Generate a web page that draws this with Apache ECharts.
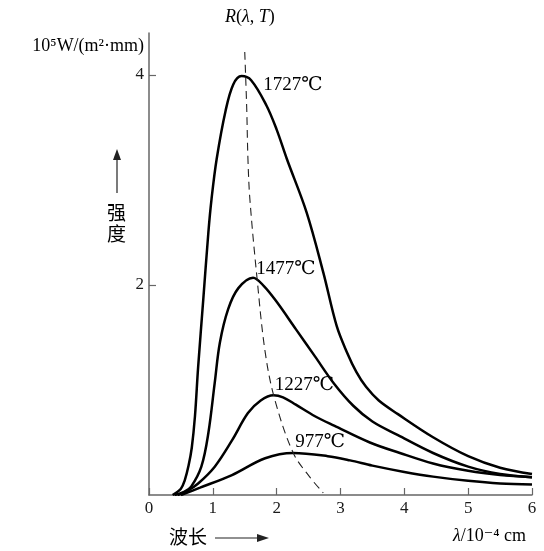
<!DOCTYPE html>
<html>
<head>
<meta charset="utf-8">
<script src="https://cdn.jsdelivr.net/npm/echarts@6/dist/echarts.min.js"></script>
<style>
  html, body { margin: 0; padding: 0; background: #fff; }
  #chart { width: 544px; height: 551px; }
</style>
</head>
<body>
<div id="chart"></div>
<script>
// wavelength (10^-4 cm) vs intensity R (10^5 W/(m^2·mm))
const xTicks = [0, 1, 2, 3, 4, 5, 6]
const yTicks = [2, 4]

const curve1727 = [
    [0.37, 0], [0.5, 0.06], [0.56, 0.14], [0.62, 0.28], [0.67, 0.45], [0.72, 0.75],
    [0.77, 1.22], [0.85, 1.86], [0.93, 2.5], [0.98, 2.82], [1.06, 3.2], [1.2, 3.66],
    [1.32, 3.91], [1.45, 3.99], [1.6, 3.95], [1.84, 3.71], [2.0, 3.48], [2.16, 3.2],
    [2.47, 2.69], [2.73, 2.12], [2.94, 1.61], [3.1, 1.36], [3.25, 1.17], [3.4, 1.03],
    [3.6, 0.9], [3.9, 0.77], [4.45, 0.55], [5.0, 0.37], [5.5, 0.26], [6, 0.2],
]
const curve1477 = [
    [0.4, 0], [0.55, 0.03], [0.66, 0.08], [0.82, 0.27], [0.93, 0.59], [1.03, 1.07],
    [1.11, 1.45], [1.24, 1.77], [1.4, 1.97], [1.63, 2.07], [1.8, 1.99], [2.0, 1.84],
    [2.3, 1.58], [2.6, 1.32], [2.9, 1.06], [3.2, 0.85], [3.5, 0.7], [3.9, 0.57],
    [4.45, 0.4], [5.0, 0.27], [5.5, 0.2], [6, 0.17],
]
const curve1227 = [
    [0.45, 0], [0.6, 0.04], [0.77, 0.11], [1.03, 0.27], [1.3, 0.52], [1.55, 0.78],
    [1.75, 0.9], [1.95, 0.95], [2.1, 0.93], [2.3, 0.86], [2.6, 0.75], [2.9, 0.66],
    [3.46, 0.5], [3.93, 0.4], [4.45, 0.3], [5.0, 0.23], [5.5, 0.19], [6, 0.17],
]
const curve977 = [
    [0.5, 0], [0.8, 0.07], [1.3, 0.19], [1.82, 0.35], [2.26, 0.4], [2.8, 0.37],
    [3.15, 0.33], [3.5, 0.28], [4.0, 0.22], [4.45, 0.175], [5.0, 0.135], [5.5, 0.11],
    [6, 0.1],
]
// dashed line through the maxima
const peakLine = [
    [1.5, 4.22], [1.53, 3.7], [1.55, 3.2], [1.58, 2.82], [1.69, 2.08], [1.82, 1.36],
    [1.97, 0.91], [2.26, 0.4], [2.52, 0.17], [2.73, 0.02],
]
const curveLabels = [
    [1.79, 3.9, '1727℃'],
    [1.68, 2.15, '1477℃'],
    [1.97, 1.05, '1227℃'],
    [2.29, 0.5, '977℃'],
]

const serif = '"Liberation Serif", "DejaVu Serif", "Noto Sans CJK SC", serif'
const cjk = '"Noto Sans CJK SC", sans-serif'
const ink = '#000'
const axisColor = '#666'

const curveSeries = data => ({
    type: 'line',
    data: data,
    smooth: 0.35,
    showSymbol: false,
    silent: true,
    lineStyle: { color: '#000', width: 2.5 },
})

const chart = echarts.init(document.getElementById('chart'))
chart.setOption({
    animation: false,
    grid: { left: 149, right: 12, top: 33, bottom: 56 },
    xAxis: {
        type: 'value',
        min: 0,
        max: 6,
        interval: 1,
        axisLine: { lineStyle: { color: axisColor, width: 1.5 } },
        axisTick: { inside: true, length: 7, lineStyle: { color: axisColor, width: 1.2 } },
        axisLabel: {
            customValues: xTicks,
            color: '#1a1a1a',
            fontSize: 17,
            fontFamily: serif,
            margin: 5,
        },
        splitLine: { show: false },
    },
    yAxis: {
        type: 'value',
        min: 0,
        max: 4.4,
        interval: 2,
        axisLine: { show: true, lineStyle: { color: axisColor, width: 1.5 } },
        axisTick: {
            show: true,
            inside: true,
            length: 7,
            customValues: yTicks,
            lineStyle: { color: axisColor, width: 1.2 },
        },
        axisLabel: {
            customValues: yTicks,
            color: '#1a1a1a',
            fontSize: 17,
            fontFamily: serif,
            margin: 5,
        },
        splitLine: { show: false },
    },
    series: [
        curveSeries(curve1727),
        curveSeries(curve1477),
        curveSeries(curve1227),
        curveSeries(curve977),
        {
            type: 'line',
            data: peakLine,
            smooth: 0.35,
            showSymbol: false,
            silent: true,
            lineStyle: { color: '#222', width: 1.1, type: [8, 5] },
        },
        {
            type: 'scatter',
            data: curveLabels,
            symbolSize: 0,
            silent: true,
            itemStyle: { opacity: 1 },
            label: {
                show: true,
                position: 'right',
                distance: 0,
                formatter: p => p.value[2],
                color: ink,
                opacity: 1,
                fontSize: 19,
                fontFamily: serif,
            },
        },
    ],
    graphic: [
        {
            type: 'text',
            left: 225,
            top: 8,
            style: {
                text: '{i|R}{n|(}{i|λ}{n|, }{i|T}{n|)}',
                rich: {
                    i: { fontSize: 18, fontFamily: serif, fontStyle: 'italic', fill: ink },
                    n: { fontSize: 18, fontFamily: serif, fill: ink },
                },
            },
        },
        {
            type: 'text',
            right: 400,
            top: 37,
            style: {
                text: '10⁵W/(m²·mm)',
                fontSize: 18,
                fontFamily: serif,
                fill: ink,
            },
        },
        // vertical axis name with arrow
        { type: 'line', shape: { x1: 117, y1: 193, x2: 117, y2: 158 }, style: { stroke: '#222', lineWidth: 1.2 } },
        { type: 'polygon', shape: { points: [[117, 149], [113, 160], [121, 160]] }, style: { fill: '#222' } },
        { type: 'text', x: 107, y: 203, style: { text: '强', fontSize: 19, fontFamily: cjk, fill: ink } },
        { type: 'text', x: 107, y: 224, style: { text: '度', fontSize: 19, fontFamily: cjk, fill: ink } },
        // horizontal axis name with arrow
        { type: 'text', x: 169, y: 527, style: { text: '波长', fontSize: 19, fontFamily: cjk, fill: ink } },
        { type: 'line', shape: { x1: 215, y1: 538, x2: 260, y2: 538 }, style: { stroke: '#222', lineWidth: 1.2 } },
        { type: 'polygon', shape: { points: [[269, 538], [257, 534], [257, 542]] }, style: { fill: '#222' } },
        {
            type: 'text',
            x: 453,
            y: 527,
            style: {
                text: '{i|λ}{n|/10⁻⁴ cm}',
                rich: {
                    i: { fontSize: 18, fontFamily: serif, fontStyle: 'italic', fill: ink },
                    n: { fontSize: 18, fontFamily: serif, fill: ink },
                },
            },
        },
    ],
})
</script>
</body>
</html>
